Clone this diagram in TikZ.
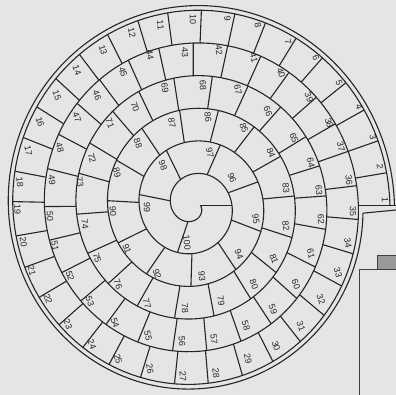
\documentclass[tikz,border=0pt]{standalone}
\usepackage{fontspec}
\setmainfont{Liberation Sans}

\begin{document}
\begin{tikzpicture}[
    x=1pt, y=1pt,
    % Radio de la espiral (una vuelta = 360 grados, paso 31.6)
    declare function={spr(\t)=196.5-0.0877778*\t;},
    % Estilos de líneas y textos
    wall/.style={line width=1.1pt, draw=black!85, line join=round},
    num/.style={font=\fontsize{9}{9}\selectfont, text=black!85, inner sep=0pt},
    block/.style={line width=1pt, draw=black!75}
]

% ==========================================
% FONDO Y MARCO
% ==========================================
\fill[black!10] (-193.5,-189.5) rectangle (202.5,205.5);
\useasboundingbox (-193.5,-189.5) rectangle (202.5,205.5);

% ==========================================
% ESPIRAL (paredes curvas)
% ==========================================
\draw[wall] plot[domain=0:2160, samples=721, variable=\t]
    ({spr(\t)*cos(\t)}, {1.035*spr(\t)*sin(\t)});
% Línea doble exterior
\draw[wall] plot[domain=0:357.5, samples=240, variable=\t]
    ({(spr(\t)+4.5)*cos(\t)}, {1.035*(spr(\t)+4.5)*sin(\t)})
    -- (202.5,-4.5);

% ==========================================
% PAREDES RADIALES ENTRE CASILLAS
% ==========================================
\foreach \d in {0, 9.3, 18.7, 28.4, 37.9, 47.9, 57.6, 67.8, 77.4, 87.6,
    97.9, 107.3, 117.5, 128, 138.3, 148.7, 158.9, 169.5, 178.8, 189.4,
    199.5, 209.9, 220.6, 231.1, 241.2, 252.3, 263.7, 274.9, 286.6, 297.8,
    309.1, 320.9, 332.3, 343.7, 355.3, 366.7, 378.7, 389.1, 400.4, 413.4,
    425, 437.5, 450.1, 462.9, 474.9, 487.7, 499.7, 513, 526.3, 540.4,
    553.1, 566.2, 579.3, 592.7, 607.1, 621.5, 635.4, 649.9, 664.2, 679,
    694, 710.1, 724, 736.9, 750.6, 767.5, 784.7, 801.4, 819.1, 836.4,
    851.6, 869.8, 884.8, 904.1, 923.6, 941.5, 959.9, 980.1, 1000.9, 1022.4,
    1041.9, 1062.5, 1085.2, 1108.6, 1131.4, 1154.8, 1178.6, 1204.7, 1230.4, 1256.9,
    1285.6, 1314.6, 1348.1, 1384.4, 1419.6, 1459.5, 1505.4, 1557, 1609, 1690.5,
    1800}
    \draw[wall] ({spr(\d)*cos(\d)}, {1.035*spr(\d)*sin(\d)})
        -- ({spr(\d+360)*cos(\d)}, {1.035*spr(\d+360)*sin(\d)});

% Salida hacia la derecha
\coordinate (exitA) at (196.5,0);
\draw[wall] (exitA) -- (202.5,0);

% ==========================================
% NÚMEROS DE LAS CASILLAS
% ==========================================
% (el texto se inclina un poco en las diagonales)
\foreach \x/\y [count=\n] in {
    191.5/5.5, 186.5/38.5, 179.5/68.5, 165.5/98.5, 145.5/122.5,
    122.5/147.5, 94.5/163.5, 64.5/180.5, 34/186.5, -0.5/185.5,
    -33/180.5, -61.5/172.5, -90.5/155.5, -116.5/135.5, -136.5/110.5,
    -153.5/83.5, -165/55, -173.5/23.5, -176/-3.5, -170/-37,
    -161.5/-65.5, -145.5/-93.5, -125.5/-118.5, -101.5/-138.5, -75.5/-153.5,
    -43.5/-163.5, -10.5/-170.5, 22.5/-167.5, 54.5/-153.5, 82.5/-140.5,
    107.5/-120.5, 127.5/-93.5, 144.5/-67.5, 154.5/-37.5, 159.5/-5.5,
    155.5/25.5, 147.5/58.5, 135.5/82.5, 115.5/108.5, 87.5/132.5,
    60.5/147.5, 25.5/155.5, -8.5/153.5, -43.5/150.5, -70.5/133.5,
    -96.5/110.5, -116.5/88.5, -133.5/57.5, -141.5/25.5, -143.5/-10.5,
    -138.5/-40.5, -123.5/-70.5, -103.5/-95.5, -78.5/-117.5, -45.5/-130.5,
    -11.5/-135.5, 20.5/-133.5, 52.5/-120.5, 79.5/-103.5, 102.5/-78.5,
    117.5/-48.5, 127.5/-13.5, 125.5/15.5, 117.5/42.5, 100.5/67.5,
    74.5/94.5, 44.5/115.5, 9.5/120.5, -28.5/117.5, -58.5/98.5,
    -83.5/82.5, -101.5/47.5, -113.5/23.5, -108.5/-18.5, -96.5/-52.5,
    -75.5/-78.5, -46.5/-98.5, -8.5/-102.5, 27.5/-95.5, 60.5/-78.5,
    80.5/-53.5, 92.5/-20.5, 92.5/17.5, 77.5/52.5, 50.5/77.5,
    14.5/88.5, -21.5/82.5, -55.5/62.5, -76.5/32.5, -80.5/-5.5,
    -66.5/-43.5, -36.5/-68.5, 8.5/-70.5, 45.5/-48.5, 62.5/-13.5,
    38.5/27.5, 16.5/52.5, -30.5/40.5, -46.5/-1.5, -6.5/-37.5}
{
    \pgfmathsetmacro\rot{-90+20*abs(sin(2*atan2(\y,\x)))}
    \node[num, rotate=\rot] (c\n) at (\x,\y) {\n};
}

% ==========================================
% EDIFICIO ABAJO A LA DERECHA
% ==========================================
\draw[block] (165.5,-189.5) -- (165.5,-64.5) -- (202.5,-64.5);
\filldraw[block, fill=black!40] (183.5,-64.5) rectangle (202.5,-50.5);

\end{tikzpicture}
\end{document}
